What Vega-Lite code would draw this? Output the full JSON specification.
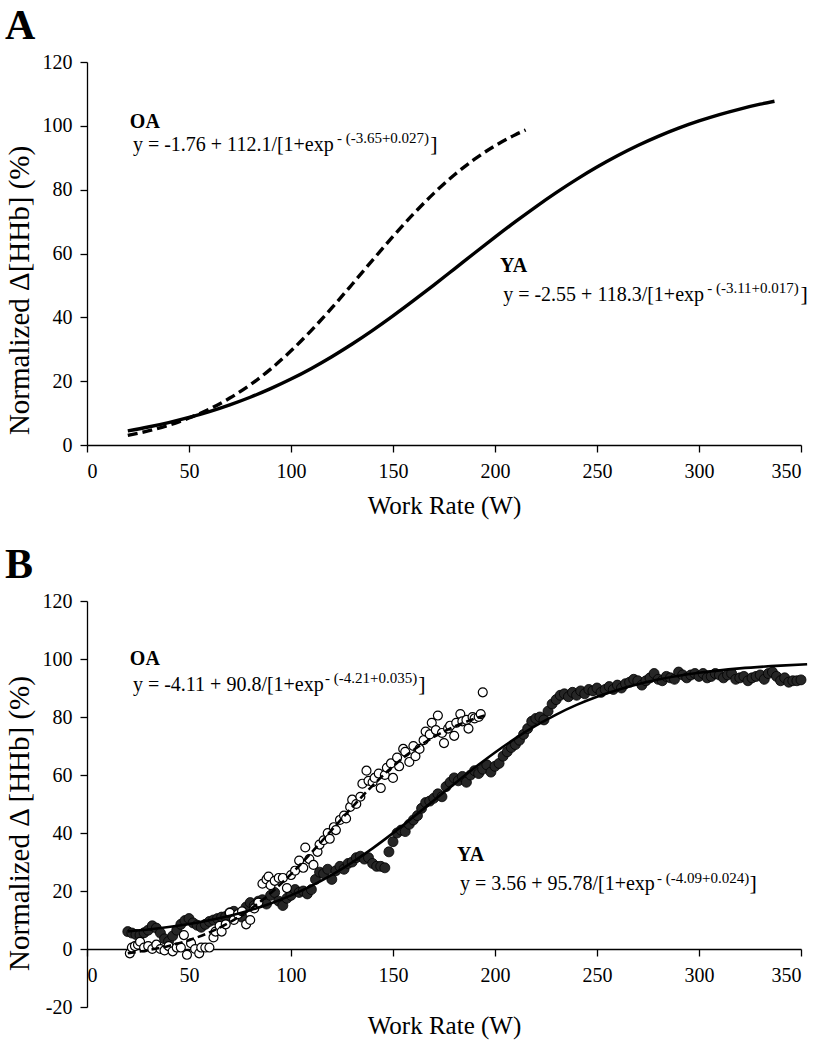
{
  "$schema": "https://vega.github.io/schema/vega-lite/v6.json",
  "background": "white",
  "padding": {"left": 5, "top": 5, "right": 5, "bottom": 5},
  "config": {
    "font": "Liberation Serif",
    "view": {"stroke": null},
    "axis": {"grid": false, "domainColor": "black", "tickColor": "black", "labelColor": "black", "titleColor": "black", "labelFont": "Liberation Serif", "titleFont": "Liberation Serif", "labelFontSize": 20, "titleFontSize": 25, "titleFontWeight": "normal", "tickSize": 7, "domainWidth": 1.3, "tickWidth": 1.3},
    "title": {"font": "Liberation Serif", "fontSize": 42, "fontWeight": "bold", "anchor": "start", "frame": "bounds", "color": "black"}
  },
  "datasets": {
    "curveA": [
      {"group": "OA", "w": 20, "v": 3.03}, {"group": "OA", "w": 30, "v": 4.43}, {"group": "OA", "w": 40, "v": 6.21}, {"group": "OA", "w": 50, "v": 8.46}, {"group": "OA", "w": 60, "v": 11.25}, {"group": "OA", "w": 70, "v": 14.7}, {"group": "OA", "w": 80, "v": 18.86}, {"group": "OA", "w": 90, "v": 23.79}, {"group": "OA", "w": 100, "v": 29.5}, {"group": "OA", "w": 110, "v": 35.93}, {"group": "OA", "w": 120, "v": 42.96}, {"group": "OA", "w": 130, "v": 50.37}, {"group": "OA", "w": 140, "v": 57.93}, {"group": "OA", "w": 150, "v": 65.36}, {"group": "OA", "w": 160, "v": 72.38}, {"group": "OA", "w": 170, "v": 78.84}, {"group": "OA", "w": 180, "v": 84.6}, {"group": "OA", "w": 190, "v": 89.56}, {"group": "OA", "w": 200, "v": 93.74}, {"group": "OA", "w": 210, "v": 97.21}, {"group": "OA", "w": 215, "v": 98.7},
      {"group": "YA", "w": 20, "v": 4.43}, {"group": "YA", "w": 30, "v": 5.63}, {"group": "YA", "w": 40, "v": 7.02}, {"group": "YA", "w": 50, "v": 8.63}, {"group": "YA", "w": 60, "v": 10.47}, {"group": "YA", "w": 70, "v": 12.58}, {"group": "YA", "w": 80, "v": 14.96}, {"group": "YA", "w": 90, "v": 17.66}, {"group": "YA", "w": 100, "v": 20.66}, {"group": "YA", "w": 110, "v": 24.0}, {"group": "YA", "w": 120, "v": 27.67}, {"group": "YA", "w": 130, "v": 31.64}, {"group": "YA", "w": 140, "v": 35.92}, {"group": "YA", "w": 150, "v": 40.45}, {"group": "YA", "w": 160, "v": 45.21}, {"group": "YA", "w": 170, "v": 50.12}, {"group": "YA", "w": 180, "v": 55.13}, {"group": "YA", "w": 190, "v": 60.15}, {"group": "YA", "w": 200, "v": 65.11}, {"group": "YA", "w": 210, "v": 69.97}, {"group": "YA", "w": 220, "v": 74.64}, {"group": "YA", "w": 230, "v": 79.08}, {"group": "YA", "w": 240, "v": 83.23}, {"group": "YA", "w": 250, "v": 87.08}, {"group": "YA", "w": 260, "v": 90.61}, {"group": "YA", "w": 270, "v": 93.82}, {"group": "YA", "w": 280, "v": 96.69}, {"group": "YA", "w": 290, "v": 99.26}, {"group": "YA", "w": 300, "v": 101.52}, {"group": "YA", "w": 310, "v": 103.52}, {"group": "YA", "w": 320, "v": 105.26}, {"group": "YA", "w": 330, "v": 106.78}, {"group": "YA", "w": 337, "v": 107.71}
    ],
    "fitB": [
      {"group": "OA", "w": 20, "v": -1.47}, {"group": "OA", "w": 30, "v": -0.41}, {"group": "OA", "w": 40, "v": 1.05}, {"group": "OA", "w": 50, "v": 3.04}, {"group": "OA", "w": 60, "v": 5.71}, {"group": "OA", "w": 70, "v": 9.22}, {"group": "OA", "w": 80, "v": 13.71}, {"group": "OA", "w": 90, "v": 19.26}, {"group": "OA", "w": 100, "v": 25.82}, {"group": "OA", "w": 110, "v": 33.21}, {"group": "OA", "w": 120, "v": 41.06}, {"group": "OA", "w": 130, "v": 48.93}, {"group": "OA", "w": 140, "v": 56.36}, {"group": "OA", "w": 150, "v": 62.98}, {"group": "OA", "w": 160, "v": 68.58}, {"group": "OA", "w": 170, "v": 73.13}, {"group": "OA", "w": 180, "v": 76.69}, {"group": "OA", "w": 190, "v": 79.41}, {"group": "OA", "w": 195, "v": 80.5},
      {"group": "YA", "w": 20, "v": 6.08}, {"group": "YA", "w": 30, "v": 6.74}, {"group": "YA", "w": 40, "v": 7.57}, {"group": "YA", "w": 50, "v": 8.6}, {"group": "YA", "w": 60, "v": 9.88}, {"group": "YA", "w": 70, "v": 11.46}, {"group": "YA", "w": 80, "v": 13.37}, {"group": "YA", "w": 90, "v": 15.7}, {"group": "YA", "w": 100, "v": 18.48}, {"group": "YA", "w": 110, "v": 21.76}, {"group": "YA", "w": 120, "v": 25.56}, {"group": "YA", "w": 130, "v": 29.89}, {"group": "YA", "w": 140, "v": 34.71}, {"group": "YA", "w": 150, "v": 39.95}, {"group": "YA", "w": 160, "v": 45.5}, {"group": "YA", "w": 170, "v": 51.21}, {"group": "YA", "w": 180, "v": 56.93}, {"group": "YA", "w": 190, "v": 62.5}, {"group": "YA", "w": 200, "v": 67.77}, {"group": "YA", "w": 210, "v": 72.63}, {"group": "YA", "w": 220, "v": 77.0}, {"group": "YA", "w": 230, "v": 80.85}, {"group": "YA", "w": 240, "v": 84.17}, {"group": "YA", "w": 250, "v": 86.98}, {"group": "YA", "w": 260, "v": 89.35}, {"group": "YA", "w": 270, "v": 91.3}, {"group": "YA", "w": 280, "v": 92.9}, {"group": "YA", "w": 290, "v": 94.2}, {"group": "YA", "w": 300, "v": 95.25}, {"group": "YA", "w": 320, "v": 96.77}, {"group": "YA", "w": 340, "v": 97.73}, {"group": "YA", "w": 353, "v": 98.17}
    ],
    "ptsYA": [
      {"w": 20, "v": 6.0}, {"w": 22, "v": 5.5}, {"w": 24, "v": 5.0}, {"w": 26, "v": 4.8}, {"w": 28, "v": 5.6}, {"w": 30, "v": 6.5}, {"w": 32, "v": 8.0}, {"w": 34, "v": 7.2}, {"w": 36, "v": 5.5}, {"w": 38, "v": 3.5}, {"w": 40, "v": 2.6}, {"w": 42, "v": 4.5}, {"w": 44, "v": 6.5}, {"w": 46, "v": 8.5}, {"w": 48, "v": 9.8}, {"w": 50, "v": 10.5}, {"w": 52, "v": 9.0}, {"w": 54, "v": 8.2}, {"w": 56, "v": 7.5}, {"w": 58, "v": 8.5}, {"w": 60, "v": 9.5}, {"w": 62, "v": 10.0}, {"w": 64, "v": 10.5}, {"w": 66, "v": 11.0}, {"w": 68, "v": 11.2}, {"w": 70, "v": 12.5}, {"w": 72, "v": 13.0}, {"w": 74, "v": 11.5}, {"w": 76, "v": 11.0}, {"w": 78, "v": 14.5}, {"w": 80, "v": 16.0}, {"w": 82, "v": 15.0}, {"w": 84, "v": 16.5}, {"w": 86, "v": 17.0}, {"w": 88, "v": 15.5}, {"w": 90, "v": 18.5}, {"w": 92, "v": 19.5}, {"w": 94, "v": 16.5}, {"w": 96, "v": 15.0}, {"w": 98, "v": 17.5}, {"w": 100, "v": 18.5}, {"w": 102, "v": 20.5}, {"w": 104, "v": 19.5}, {"w": 106, "v": 20.0}, {"w": 108, "v": 19.0}, {"w": 110, "v": 20.5}, {"w": 112, "v": 24.0}, {"w": 114, "v": 26.5}, {"w": 116, "v": 26.0}, {"w": 118, "v": 27.5}, {"w": 120, "v": 24.0}, {"w": 122, "v": 27.0}, {"w": 124, "v": 28.5}, {"w": 126, "v": 27.5}, {"w": 128, "v": 29.5}, {"w": 130, "v": 30.0}, {"w": 132, "v": 31.5}, {"w": 134, "v": 32.0}, {"w": 136, "v": 31.0}, {"w": 138, "v": 31.5}, {"w": 140, "v": 29.5}, {"w": 142, "v": 28.5}, {"w": 144, "v": 28.5}, {"w": 146, "v": 28.0}, {"w": 148, "v": 33.5}, {"w": 150, "v": 37.0}, {"w": 152, "v": 40.0}, {"w": 154, "v": 41.0}, {"w": 156, "v": 40.5}, {"w": 158, "v": 43.0}, {"w": 160, "v": 44.5}, {"w": 162, "v": 46.0}, {"w": 164, "v": 48.5}, {"w": 166, "v": 50.5}, {"w": 168, "v": 51.0}, {"w": 170, "v": 52.0}, {"w": 172, "v": 53.5}, {"w": 174, "v": 52.5}, {"w": 176, "v": 56.0}, {"w": 178, "v": 57.5}, {"w": 180, "v": 59.0}, {"w": 182, "v": 58.0}, {"w": 184, "v": 59.5}, {"w": 186, "v": 57.5}, {"w": 188, "v": 60.0}, {"w": 190, "v": 61.5}, {"w": 192, "v": 60.5}, {"w": 194, "v": 62.0}, {"w": 196, "v": 63.5}, {"w": 198, "v": 61.0}, {"w": 200, "v": 63.0}, {"w": 202, "v": 64.0}, {"w": 204, "v": 66.5}, {"w": 206, "v": 68.0}, {"w": 208, "v": 69.5}, {"w": 210, "v": 70.5}, {"w": 212, "v": 72.0}, {"w": 214, "v": 74.0}, {"w": 216, "v": 76.0}, {"w": 218, "v": 78.5}, {"w": 220, "v": 79.5}, {"w": 222, "v": 80.0}, {"w": 224, "v": 79.0}, {"w": 226, "v": 82.0}, {"w": 228, "v": 84.5}, {"w": 230, "v": 86.0}, {"w": 232, "v": 87.5}, {"w": 234, "v": 88.0}, {"w": 236, "v": 87.0}, {"w": 238, "v": 88.5}, {"w": 240, "v": 87.5}, {"w": 242, "v": 89.0}, {"w": 244, "v": 88.0}, {"w": 246, "v": 89.5}, {"w": 248, "v": 89.0}, {"w": 250, "v": 90.0}, {"w": 252, "v": 88.5}, {"w": 254, "v": 89.5}, {"w": 256, "v": 90.5}, {"w": 258, "v": 89.5}, {"w": 260, "v": 91.0}, {"w": 262, "v": 90.0}, {"w": 264, "v": 91.5}, {"w": 266, "v": 92.0}, {"w": 268, "v": 93.0}, {"w": 270, "v": 92.5}, {"w": 272, "v": 91.0}, {"w": 274, "v": 92.5}, {"w": 276, "v": 93.5}, {"w": 278, "v": 95.0}, {"w": 280, "v": 93.0}, {"w": 282, "v": 92.5}, {"w": 284, "v": 94.0}, {"w": 286, "v": 93.5}, {"w": 288, "v": 93.0}, {"w": 290, "v": 95.5}, {"w": 292, "v": 94.5}, {"w": 294, "v": 93.5}, {"w": 296, "v": 94.5}, {"w": 298, "v": 95.0}, {"w": 300, "v": 94.0}, {"w": 302, "v": 95.0}, {"w": 304, "v": 93.5}, {"w": 306, "v": 94.0}, {"w": 308, "v": 95.0}, {"w": 310, "v": 94.5}, {"w": 312, "v": 93.5}, {"w": 314, "v": 94.5}, {"w": 316, "v": 95.0}, {"w": 318, "v": 93.0}, {"w": 320, "v": 93.5}, {"w": 322, "v": 94.0}, {"w": 324, "v": 92.5}, {"w": 326, "v": 93.5}, {"w": 328, "v": 94.0}, {"w": 330, "v": 94.5}, {"w": 332, "v": 93.0}, {"w": 334, "v": 95.0}, {"w": 336, "v": 95.5}, {"w": 338, "v": 94.0}, {"w": 340, "v": 92.5}, {"w": 342, "v": 93.5}, {"w": 344, "v": 92.0}, {"w": 346, "v": 92.5}, {"w": 348, "v": 92.5}, {"w": 350, "v": 92.8}
    ],
    "ptsOA": [
      {"w": 21, "v": -1.5}, {"w": 22, "v": 0.5}, {"w": 23.5, "v": 1.0}, {"w": 25, "v": 1.5}, {"w": 26, "v": 2.5}, {"w": 28, "v": 0.5}, {"w": 30, "v": 1.0}, {"w": 32, "v": 0.0}, {"w": 34, "v": 1.5}, {"w": 36, "v": 0.0}, {"w": 38, "v": -0.5}, {"w": 40, "v": 1.0}, {"w": 42, "v": -0.8}, {"w": 44, "v": 0.5}, {"w": 46, "v": 0.5}, {"w": 47.5, "v": 4.8}, {"w": 49, "v": -2.0}, {"w": 51, "v": 2.0}, {"w": 53, "v": 0.0}, {"w": 55, "v": -1.5}, {"w": 56, "v": 0.5}, {"w": 58, "v": 0.5}, {"w": 60, "v": 0.5}, {"w": 62, "v": 4.0}, {"w": 63, "v": 6.0}, {"w": 65, "v": 8.0}, {"w": 66, "v": 6.0}, {"w": 68, "v": 8.5}, {"w": 70, "v": 12.5}, {"w": 72, "v": 10.0}, {"w": 74, "v": 12.0}, {"w": 76, "v": 13.0}, {"w": 78, "v": 8.5}, {"w": 80, "v": 10.0}, {"w": 82, "v": 14.0}, {"w": 84, "v": 16.0}, {"w": 86, "v": 22.5}, {"w": 88, "v": 24.0}, {"w": 89, "v": 25.0}, {"w": 90, "v": 22.0}, {"w": 92, "v": 23.5}, {"w": 94, "v": 24.5}, {"w": 96, "v": 24.5}, {"w": 98, "v": 21.0}, {"w": 100, "v": 25.5}, {"w": 102, "v": 27.0}, {"w": 104, "v": 30.5}, {"w": 106, "v": 28.0}, {"w": 107, "v": 35.0}, {"w": 109, "v": 31.0}, {"w": 111, "v": 29.0}, {"w": 113, "v": 33.5}, {"w": 114, "v": 36.0}, {"w": 116, "v": 37.5}, {"w": 118, "v": 40.0}, {"w": 119, "v": 38.0}, {"w": 121, "v": 42.0}, {"w": 122, "v": 41.0}, {"w": 124, "v": 44.5}, {"w": 126, "v": 46.0}, {"w": 127, "v": 45.0}, {"w": 129, "v": 49.0}, {"w": 130, "v": 51.5}, {"w": 132, "v": 50.0}, {"w": 134, "v": 52.5}, {"w": 135, "v": 57.0}, {"w": 137, "v": 61.5}, {"w": 138, "v": 58.0}, {"w": 140, "v": 57.5}, {"w": 141, "v": 59.0}, {"w": 143, "v": 60.5}, {"w": 144, "v": 55.5}, {"w": 146, "v": 60.0}, {"w": 147, "v": 62.5}, {"w": 149, "v": 64.0}, {"w": 150, "v": 59.0}, {"w": 152, "v": 66.0}, {"w": 153, "v": 63.0}, {"w": 155, "v": 69.0}, {"w": 156, "v": 68.0}, {"w": 158, "v": 64.5}, {"w": 160, "v": 70.0}, {"w": 161, "v": 66.5}, {"w": 163, "v": 69.0}, {"w": 165, "v": 72.0}, {"w": 166, "v": 75.0}, {"w": 168, "v": 74.0}, {"w": 169, "v": 78.0}, {"w": 171, "v": 75.5}, {"w": 172, "v": 80.5}, {"w": 174, "v": 74.5}, {"w": 175, "v": 71.0}, {"w": 177, "v": 76.0}, {"w": 178, "v": 77.0}, {"w": 180, "v": 73.5}, {"w": 181, "v": 78.0}, {"w": 183, "v": 81.0}, {"w": 184, "v": 78.5}, {"w": 186, "v": 79.0}, {"w": 187, "v": 76.0}, {"w": 189, "v": 80.0}, {"w": 190, "v": 79.5}, {"w": 192, "v": 80.0}, {"w": 193, "v": 81.0}, {"w": 194, "v": 88.5}
    ],
    "notes": [{"t": "x"}]
  },
  "spacing": 26,
  "vconcat": [
    {
      "width": 714,
      "height": 383,
      "title": {"text": "A", "offset": 4},
      "layer": [
        {"data": {"name": "curveA"}, "transform": [{"filter": "datum.group == 'OA'"}], "mark": {"type": "line", "color": "black", "strokeWidth": 3.4, "strokeDash": [10, 5], "interpolate": "monotone"},
         "encoding": {
           "x": {"field": "w", "type": "quantitative", "scale": {"domain": [0, 350], "nice": false}, "axis": {"title": "Work Rate (W)", "values": [0, 50, 100, 150, 200, 250, 300, 350], "labelPadding": 9, "titlePadding": 12}},
           "y": {"field": "v", "type": "quantitative", "scale": {"domain": [0, 120], "nice": false}, "axis": {"title": "Normalized Δ[HHb] (%)", "titleFontSize": 29, "titleY": 228, "values": [0, 20, 40, 60, 80, 100, 120], "labelPadding": 8, "titlePadding": 8}}
         }},
        {"data": {"name": "curveA"}, "transform": [{"filter": "datum.group == 'YA'"}], "mark": {"type": "line", "color": "black", "strokeWidth": 3.4, "interpolate": "monotone"},
         "encoding": {"x": {"field": "w", "type": "quantitative"}, "y": {"field": "v", "type": "quantitative"}}},
        {"data": {"name": "notes"}, "mark": {"type": "text", "fontSize": 20, "fontWeight": "bold", "align": "left", "baseline": "alphabetic", "color": "black"}, "encoding": {"x": {"datum": 21, "type": "quantitative"}, "y": {"datum": 99.4, "type": "quantitative"}, "text": {"value": "OA"}}},
        {"data": {"name": "notes"}, "mark": {"type": "text", "fontSize": 20, "align": "left", "baseline": "alphabetic", "color": "black"}, "encoding": {"x": {"datum": 22.5, "type": "quantitative"}, "y": {"datum": 92.2, "type": "quantitative"}, "text": {"value": "y = -1.76 + 112.1/[1+exp"}}},
        {"data": {"name": "notes"}, "mark": {"type": "text", "fontSize": 15, "align": "left", "baseline": "alphabetic", "color": "black"}, "encoding": {"x": {"datum": 122.5, "type": "quantitative"}, "y": {"datum": 94.6, "type": "quantitative"}, "text": {"value": " - (-3.65+0.027)"}}},
        {"data": {"name": "notes"}, "mark": {"type": "text", "fontSize": 22, "align": "left", "baseline": "alphabetic", "color": "black"}, "encoding": {"x": {"datum": 168.3, "type": "quantitative"}, "y": {"datum": 92.2, "type": "quantitative"}, "text": {"value": "]"}}},
        {"data": {"name": "notes"}, "mark": {"type": "text", "fontSize": 20, "fontWeight": "bold", "align": "left", "baseline": "alphabetic", "color": "black"}, "encoding": {"x": {"datum": 202.5, "type": "quantitative"}, "y": {"datum": 54.2, "type": "quantitative"}, "text": {"value": "YA"}}},
        {"data": {"name": "notes"}, "mark": {"type": "text", "fontSize": 20, "align": "left", "baseline": "alphabetic", "color": "black"}, "encoding": {"x": {"datum": 204, "type": "quantitative"}, "y": {"datum": 45.1, "type": "quantitative"}, "text": {"value": "y = -2.55 + 118.3/[1+exp"}}},
        {"data": {"name": "notes"}, "mark": {"type": "text", "fontSize": 15, "align": "left", "baseline": "alphabetic", "color": "black"}, "encoding": {"x": {"datum": 304, "type": "quantitative"}, "y": {"datum": 47.5, "type": "quantitative"}, "text": {"value": " - (-3.11+0.017)"}}},
        {"data": {"name": "notes"}, "mark": {"type": "text", "fontSize": 22, "align": "left", "baseline": "alphabetic", "color": "black"}, "encoding": {"x": {"datum": 349.7, "type": "quantitative"}, "y": {"datum": 45.1, "type": "quantitative"}, "text": {"value": "]"}}}
      ]
    },
    {
      "width": 714,
      "height": 406,
      "title": {"text": "B", "offset": 4},
      "layer": [
        {"data": {"name": "ptsYA"}, "mark": {"type": "point", "shape": "circle", "filled": true, "size": 100, "fill": "#262626", "stroke": "black", "strokeWidth": 0.8, "opacity": 1},
         "encoding": {
           "x": {"field": "w", "type": "quantitative", "scale": {"domain": [0, 350], "nice": false}, "axis": {"title": "Work Rate (W)", "values": [0, 50, 100, 150, 200, 250, 300, 350], "labelPadding": 9, "titlePadding": 28, "offset": -58}},
           "y": {"field": "v", "type": "quantitative", "scale": {"domain": [-20, 120], "nice": false}, "axis": {"title": "Normalized  Δ [HHb] (%)", "titleFontSize": 29, "titleY": 222, "values": [-20, 0, 20, 40, 60, 80, 100, 120], "labelExpr": "'' + datum.value", "labelPadding": 8, "titlePadding": 8}}
         }},
        {"data": {"name": "ptsOA"}, "mark": {"type": "point", "shape": "circle", "filled": false, "size": 80, "fill": "white", "fillOpacity": 1, "stroke": "black", "strokeWidth": 1.2, "opacity": 1},
         "encoding": {"x": {"field": "w", "type": "quantitative"}, "y": {"field": "v", "type": "quantitative"}}},
        {"data": {"name": "fitB"}, "transform": [{"filter": "datum.group == 'YA'"}], "mark": {"type": "line", "color": "black", "strokeWidth": 2.6, "interpolate": "monotone"},
         "encoding": {"x": {"field": "w", "type": "quantitative"}, "y": {"field": "v", "type": "quantitative"}}},
        {"data": {"name": "fitB"}, "transform": [{"filter": "datum.group == 'OA'"}], "mark": {"type": "line", "color": "black", "strokeWidth": 2.6, "strokeDash": [8, 4], "interpolate": "monotone"},
         "encoding": {"x": {"field": "w", "type": "quantitative"}, "y": {"field": "v", "type": "quantitative"}}},
        {"data": {"name": "notes"}, "mark": {"type": "text", "fontSize": 20, "fontWeight": "bold", "align": "left", "baseline": "alphabetic", "color": "black"}, "encoding": {"x": {"datum": 21, "type": "quantitative"}, "y": {"datum": 97.9, "type": "quantitative"}, "text": {"value": "OA"}}},
        {"data": {"name": "notes"}, "mark": {"type": "text", "fontSize": 20, "align": "left", "baseline": "alphabetic", "color": "black"}, "encoding": {"x": {"datum": 22.5, "type": "quantitative"}, "y": {"datum": 89.0, "type": "quantitative"}, "text": {"value": "y = -4.11 + 90.8/[1+exp"}}},
        {"data": {"name": "notes"}, "mark": {"type": "text", "fontSize": 15, "align": "left", "baseline": "alphabetic", "color": "black"}, "encoding": {"x": {"datum": 116.7, "type": "quantitative"}, "y": {"datum": 91.6, "type": "quantitative"}, "text": {"value": " - (-4.21+0.035)"}}},
        {"data": {"name": "notes"}, "mark": {"type": "text", "fontSize": 22, "align": "left", "baseline": "alphabetic", "color": "black"}, "encoding": {"x": {"datum": 162.4, "type": "quantitative"}, "y": {"datum": 89.0, "type": "quantitative"}, "text": {"value": "]"}}},
        {"data": {"name": "notes"}, "mark": {"type": "text", "fontSize": 20, "fontWeight": "bold", "align": "left", "baseline": "alphabetic", "color": "black"}, "encoding": {"x": {"datum": 181.4, "type": "quantitative"}, "y": {"datum": 30.3, "type": "quantitative"}, "text": {"value": "YA"}}},
        {"data": {"name": "notes"}, "mark": {"type": "text", "fontSize": 20, "align": "left", "baseline": "alphabetic", "color": "black"}, "encoding": {"x": {"datum": 182.8, "type": "quantitative"}, "y": {"datum": 20.3, "type": "quantitative"}, "text": {"value": "y = 3.56 + 95.78/[1+exp"}}},
        {"data": {"name": "notes"}, "mark": {"type": "text", "fontSize": 15, "align": "left", "baseline": "alphabetic", "color": "black"}, "encoding": {"x": {"datum": 279.4, "type": "quantitative"}, "y": {"datum": 22.9, "type": "quantitative"}, "text": {"value": " - (-4.09+0.024)"}}},
        {"data": {"name": "notes"}, "mark": {"type": "text", "fontSize": 22, "align": "left", "baseline": "alphabetic", "color": "black"}, "encoding": {"x": {"datum": 324.8, "type": "quantitative"}, "y": {"datum": 20.3, "type": "quantitative"}, "text": {"value": "]"}}}
      ]
    }
  ]
}
